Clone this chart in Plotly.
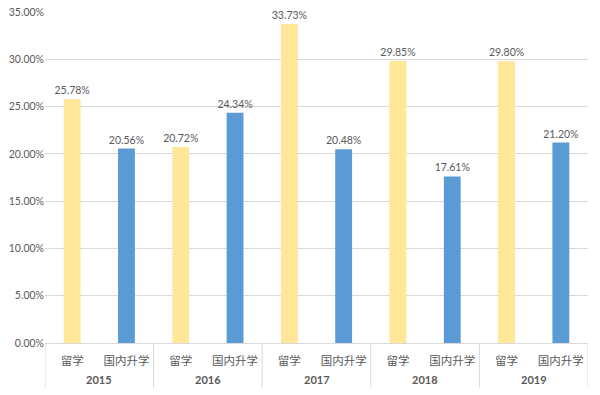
import plotly.graph_objects as go

years = ["2015", "2016", "2017", "2018", "2019"]
categories = ["留学", "国内升学"]
study_abroad = [0.2578, 0.2072, 0.3373, 0.2985, 0.2980]
domestic = [0.2056, 0.2434, 0.2048, 0.1761, 0.2120]
colors = {"留学": "#FFE699", "国内升学": "#5B9BD5"}

xs, labels, y, c = [], [], [], []
for i, yr in enumerate(years):
    for j, (cat, vals) in enumerate(zip(categories, [study_abroad, domestic])):
        xs.append(i * len(categories) + j)
        labels.append(cat)
        y.append(vals[i])
        c.append(colors[cat])

fig = go.Figure(go.Bar(
    x=xs, y=y, marker=dict(color=c, line=dict(width=0)),
    width=0.31,
    texttemplate="%{y:.2%}", textposition="outside", cliponaxis=False,
    constraintext="none",
    textfont=dict(size=10.5, color="#595959", family="Lato"),
))

n = len(categories)
for i, yr in enumerate(years):
    fig.add_annotation(
        x=i * n + (n - 1) / 2, y=0, xref="x", yref="paper",
        text="<b>" + yr + "</b>", showarrow=False, yanchor="middle", yshift=-36,
        font=dict(size=11, color="#595959", family="Lato"),
    )
for k in range(len(years) + 1):
    fig.add_shape(
        type="line", xref="x", yref="paper", x0=k * n - 0.5, x1=k * n - 0.5,
        y0=0, y1=-45 / 331, line=dict(color="#D9D9D9", width=1),
    )

fig.update_layout(
    width=600, height=395,
    margin=dict(l=45, r=12, t=12, b=52),
    plot_bgcolor="white", paper_bgcolor="white",
    showlegend=False,
    font=dict(family="Noto Sans CJK SC", color="#595959"),
)
fig.update_yaxes(
    range=[0, 0.35], tickvals=[i * 0.05 for i in range(8)], tickformat=".2%",
    showgrid=True, gridcolor="#D9D9D9", gridwidth=1, zeroline=False,
    tickfont=dict(size=10.5, color="#595959", family="Lato"),
    ticks="", automargin=False,
)
fig.update_xaxes(
    range=[-0.5, len(xs) - 0.5], tickvals=xs, ticktext=labels,
    showline=True, linecolor="#D9D9D9", linewidth=1, showgrid=False, zeroline=False,
    tickfont=dict(size=11.5, color="#595959"), tickangle=0,
    ticks="", ticklabelstandoff=7, automargin=False,
)

fig.write_html("out.html", post_script="document.body.style.margin='0';",
               config={"displayModeBar": False})
